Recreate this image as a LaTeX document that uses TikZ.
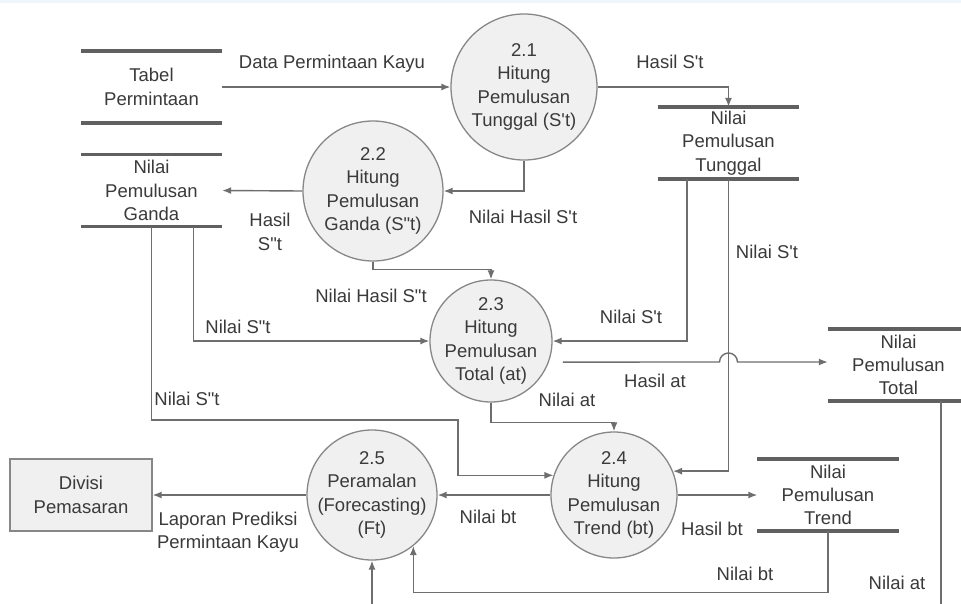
\documentclass[tikz,border=0pt]{standalone}
\usepackage{fontspec}
\usepackage{tikz}
\usetikzlibrary{arrows.meta,calc}

\newfontfamily\dfdfont{Liberation Sans}
\newcommand{\dfdtext}{\dfdfont\fontsize{18.5pt}{23.3pt}\selectfont}

\definecolor{lineGray}{RGB}{110,110,110}
\definecolor{barGray}{RGB}{96,96,96}
\definecolor{procFill}{RGB}{240,240,240}
\definecolor{procLine}{RGB}{135,135,135}
\definecolor{txtGray}{RGB}{58,58,58}
\definecolor{topBlue}{RGB}{238,246,251}

\tikzset{
  process/.style={circle,draw=procLine,fill=procFill,line width=1.3pt,inner sep=-12pt,align=center,text=txtGray,font=\dfdtext},
  store/.style={minimum width=141pt,minimum height=72pt,inner sep=0pt,align=center,text=txtGray,font=\dfdtext},
  entity/.style={draw=procLine,fill=procFill,line width=1.3pt,minimum width=142pt,minimum height=72pt,inner sep=0pt,align=center,text=txtGray,font=\dfdtext},
  bar/.style={draw=barGray,line width=3.5pt},
  flow/.style={draw=lineGray,line width=1.4pt,-{Latex[length=9pt,width=7pt]}},
  lbl/.style={align=center,inner sep=0pt,text=txtGray,font=\dfdtext}
}

\begin{document}
\begin{tikzpicture}[x=1pt,y=-1pt]
\useasboundingbox (0,0) rectangle (961,603);
\fill[white] (0,0) rectangle (961,603);
\fill[topBlue] (0,0) rectangle (961,3);
\clip (0,0) rectangle (961,603);

% Processes
\node[process,minimum size=146pt] (p21) at (524,87) {2.1\\Hitung\\Pemulusan\\Tunggal (S't)};
\node[process,minimum size=140pt] (p22) at (373,191) {2.2\\Hitung\\Pemulusan\\Ganda (S"t)};
\node[process,minimum size=122pt] (p23) at (491,341) {2.3\\Hitung\\Pemulusan\\Total (at)};
\node[process,minimum size=126pt] (p24) at (614,495) {2.4\\Hitung\\Pemulusan\\Trend (bt)};
\node[process,minimum size=130pt] (p25) at (372,495) {2.5\\Peramalan\\(Forecasting)\\(Ft)};

% Data stores
\node[store] (tabel) at (151.5,87) {Tabel\\Permintaan};
\node[store] (ganda) at (151.5,190.5) {Nilai\\Pemulusan\\Ganda};
\node[store] (tunggal) at (728.5,143) {Nilai\\Pemulusan\\Tunggal};
\node[store] (total) at (898.5,365) {Nilai\\Pemulusan\\Total};
\node[store] (trend) at (828,495) {Nilai\\Pemulusan\\Trend};
\foreach \s in {tabel,ganda,tunggal,total,trend}
  \draw[bar] (\s.north west) -- (\s.north east) (\s.south west) -- (\s.south east);

% External entity
\node[entity] (divisi) at (81,495) {Divisi\\Pemasaran};

% Flows
\coordinate (hop) at ($(tunggal.south |- total.west)+(0,-3)$);
\draw[flow] (tabel.east) -- (p21.west);
\draw[flow] (p21.east) -| (tunggal.north);
\draw[flow] (p21.south) |- (p22.east);
\draw[flow] (p22.west) -- (ganda.east);
\draw[flow] (p22.south) -- ++(0,8) -| (p23.north);
\draw[flow] ([xshift=-29pt]ganda.south east) |- (p23.west);
\draw[flow] (ganda.south) |- (458,420) |- (p24.162);
\draw[flow] ([xshift=-41.5pt]tunggal.south) |- (p23.east);
\draw[flow] (tunggal.south) |- (p24.22);
\draw[flow] ([xshift=14pt]p23.-20) -- ([xshift=-9pt]hop) arc[start angle=180,end angle=360,radius=9] -- ([yshift=3pt]total.west);
\draw[flow] (p23.south) -- ++(0,20) -| (p24.north);
\draw[flow] (p24.west) -- (p25.east);
\draw[flow] (p24.east) -- (trend.west);
\draw[flow] (trend.south) -- ++(0,61) -| (p25.-51);
\draw[flow] ([xshift=42.5pt]total.south) -- ++(0,240) -| (p25.south);
\draw[flow] (p25.west) -- (divisi.east);

% Flow labels
\node[lbl] (lData) at (332,64) {Data Permintaan Kayu};
\node[lbl] (lHasilSt) at (670,62) {Hasil S't};
\node[lbl] (lNilaiHasilSt) at (523,217) {Nilai Hasil S't};
\node[lbl] (lHasilSst) at (270,232) {Hasil\\S"t};
\node[lbl] (lNilaiHasilSst) at (371,296) {Nilai Hasil S"t};
\node[lbl] (lSstA) at (238,327) {Nilai S"t};
\node[lbl] (lSstB) at (187,399) {Nilai S"t};
\node[lbl] (lStA) at (631,317) {Nilai S't};
\node[lbl] (lStB) at (767,252) {Nilai S't};
\node[lbl] (lHasilAt) at (655,381) {Hasil at};
\node[lbl] (lNilaiAtA) at (567,400) {Nilai at};
\node[lbl] (lNilaiBtA) at (488,517) {Nilai bt};
\node[lbl] (lHasilBt) at (712,529) {Hasil bt};
\node[lbl] (lNilaiBtB) at (745,574) {Nilai bt};
\node[lbl] (lNilaiAtB) at (897,583) {Nilai at};
\node[lbl] (lLaporan) at (228,532) {Laporan Prediksi\\Permintaan Kayu};
\end{tikzpicture}
\end{document}
